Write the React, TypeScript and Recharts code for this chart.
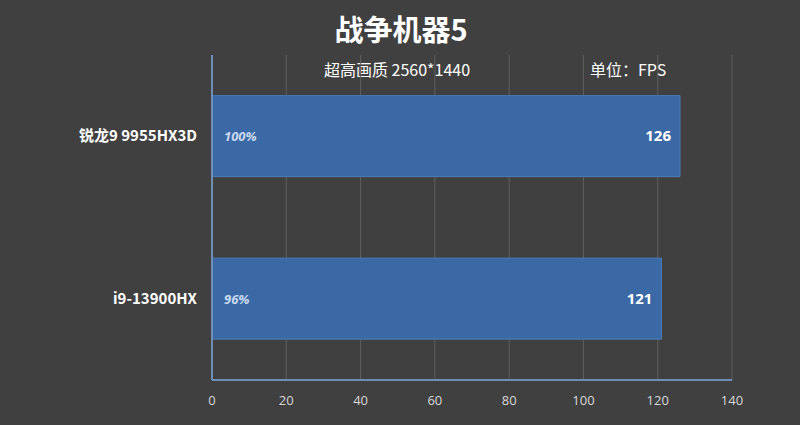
import React from "react";
import {
  BarChart,
  Bar,
  XAxis,
  YAxis,
  CartesianGrid,
  LabelList,
} from "recharts";

const categories = ["锐龙9 9955HX3D", "i9-13900HX"];
const fpsValues = [126, 121];
const percentLabels = ["100%", "96%"];
const xTicks = [0, 20, 40, 60, 80, 100, 120, 140];

const data = categories.map((name, i) => ({
  name,
  fps: fpsValues[i],
  pct: percentLabels[i],
}));

const BG = "#404040";
const BAR = "#3b69a5";
const AXIS = "#6f8db5";
const cnFont = "'Noto Sans CJK SC', 'Noto Sans', sans-serif";

const YTick = (props: any) => {
  const { x, y, payload } = props;
  return (
    <text
      x={x - 7}
      y={y}
      dy={5}
      textAnchor="end"
      fill="#ffffff"
      fontSize={15}
      fontWeight="bold"
      fontFamily={cnFont}
    >
      {payload.value}
    </text>
  );
};

// percentage on the left, fps value on the right, both inside the bar
const PctLabel = (props: any) => {
  const { x, y, height, value } = props;
  return (
    <text
      x={x + 12}
      y={y + height / 2}
      dy={5}
      fill="#c9d9f0"
      fontSize={13}
      fontStyle="italic"
      fontWeight="bold"
      fontFamily="'Open Sans', sans-serif"
    >
      {value}
    </text>
  );
};

const ValueLabel = (props: any) => {
  const { x, y, width, height, value } = props;
  return (
    <text
      x={x + width - 9}
      y={y + height / 2}
      dy={5}
      textAnchor="end"
      fill="#ffffff"
      fontSize={15}
      fontWeight="bold"
      fontFamily="'Open Sans', sans-serif"
    >
      {value}
    </text>
  );
};

export default function App() {
  return (
    <div
      style={{
        position: "fixed",
        left: 0,
        top: 0,
        width: 800,
        height: 425,
        background: BG,
        fontFamily: cnFont,
      }}
    >
      <div
        style={{
          position: "absolute",
          top: 7,
          left: 0,
          width: 802,
          textAlign: "center",
          color: "#ffffff",
          fontSize: 29,
          fontWeight: "bold",
        }}
      >
        战争机器5
      </div>
      <div
        style={{
          position: "absolute",
          top: 57,
          left: 324,
          color: "#ffffff",
          fontSize: 16,
        }}
      >
        超高画质 2560*1440
      </div>
      <div
        style={{
          position: "absolute",
          top: 57,
          left: 590,
          color: "#ffffff",
          fontSize: 16,
        }}
      >
        单位：FPS
      </div>
      <BarChart
        width={800}
        height={425}
        layout="vertical"
        data={data}
        margin={{ top: 55, right: 68, bottom: 14, left: 0 }}
        barCategoryGap="25%"
      >
        <CartesianGrid horizontal={false} stroke="#5e5e5e" />
        <XAxis
          type="number"
          domain={[0, 140]}
          ticks={xTicks}
          tickLine={false}
          axisLine={{ stroke: AXIS, strokeWidth: 2 }}
          tick={{ fill: "#d8d8d8", fontSize: 13, fontFamily: "'Open Sans', sans-serif" }}
          tickMargin={10}
          height={31}
        />
        <YAxis
          type="category"
          dataKey="name"
          width={212}
          tickLine={false}
          axisLine={{ stroke: AXIS, strokeWidth: 2 }}
          tick={<YTick />}
        />
        <Bar
          dataKey="fps"
          fill={BAR}
          stroke="#4a7bbb"
          strokeWidth={1}
          isAnimationActive={false}
        >
          <LabelList dataKey="pct" content={<PctLabel />} />
          <LabelList dataKey="fps" content={<ValueLabel />} />
        </Bar>
      </BarChart>
    </div>
  );
}
